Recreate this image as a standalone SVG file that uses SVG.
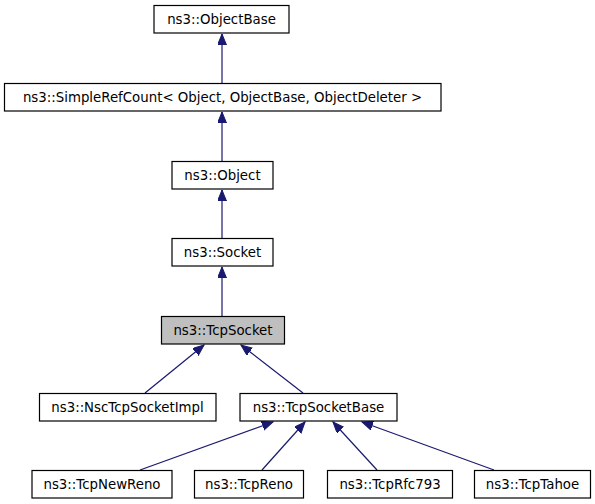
<svg xmlns="http://www.w3.org/2000/svg" width="595" height="504" viewBox="0 0 595 504">
<defs>
<marker id="arr" markerUnits="userSpaceOnUse" markerWidth="12" markerHeight="10" refX="11" refY="4.5" orient="auto">
<path d="M0,0 L11,4.5 L0,9 Z" fill="#191970" stroke="#191970" stroke-width="1"/>
</marker>
<style>
.box rect{fill:#ffffff;stroke:#000000;stroke-width:1.2}
.cur rect{fill:#bfbfbf}
.box text{font-family:"DejaVu Sans",sans-serif;font-size:13.33px;fill:#000000;text-anchor:middle}
.edges path{fill:none;stroke:#191970;stroke-width:1.2;marker-end:url(#arr)}
</style>
</defs>
<rect width="595" height="504" fill="#ffffff"/>
<g class="edges" id="edges">
<path d="M222,83 L222,34"/>
<path d="M222,161 L222,112"/>
<path d="M222,238 L222,190"/>
<path d="M222,316 L222,267"/>
<path d="M145,393 L204,345"/>
<path d="M303,393 L241,345"/>
<path d="M140,470 L273,422"/>
<path d="M262,470 L305,422"/>
<path d="M377,470 L333,422"/>
<path d="M494,470 L362,422"/>
</g>
<g class="box" id="ObjectBase"><rect x="154" y="5.5" width="135" height="27.5"/><text x="221.5" y="24">ns3::ObjectBase</text></g>
<g class="box" id="SimpleRefCount"><rect x="4.5" y="83.5" width="436.5" height="27.5"/><text x="222.5" y="102">ns3::SimpleRefCount&lt; Object, ObjectBase, ObjectDeleter &gt;</text></g>
<g class="box" id="Object"><rect x="172" y="161.5" width="101" height="27.5"/><text x="222.5" y="180">ns3::Object</text></g>
<g class="box" id="Socket"><rect x="172" y="238.5" width="101" height="27.5"/><text x="222.5" y="257">ns3::Socket</text></g>
<g class="box cur" id="TcpSocket"><rect x="161.5" y="316.5" width="123" height="27.5"/><text x="223" y="335">ns3::TcpSocket</text></g>
<g class="box" id="NscTcpSocketImpl"><rect x="39.5" y="393.5" width="176.5" height="27.5"/><text x="127.5" y="412">ns3::NscTcpSocketImpl</text></g>
<g class="box" id="TcpSocketBase"><rect x="240" y="393.5" width="157" height="27.5"/><text x="318.5" y="412">ns3::TcpSocketBase</text></g>
<g class="box" id="TcpNewReno"><rect x="32" y="470.5" width="140" height="27.5"/><text x="102" y="489">ns3::TcpNewReno</text></g>
<g class="box" id="TcpReno"><rect x="194.5" y="470.5" width="109" height="27.5"/><text x="249" y="489">ns3::TcpReno</text></g>
<g class="box" id="TcpRfc793"><rect x="327.5" y="470.5" width="125" height="27.5"/><text x="390" y="489">ns3::TcpRfc793</text></g>
<g class="box" id="TcpTahoe"><rect x="474.5" y="470.5" width="116" height="27.5"/><text x="532.5" y="489">ns3::TcpTahoe</text></g>
</svg>
